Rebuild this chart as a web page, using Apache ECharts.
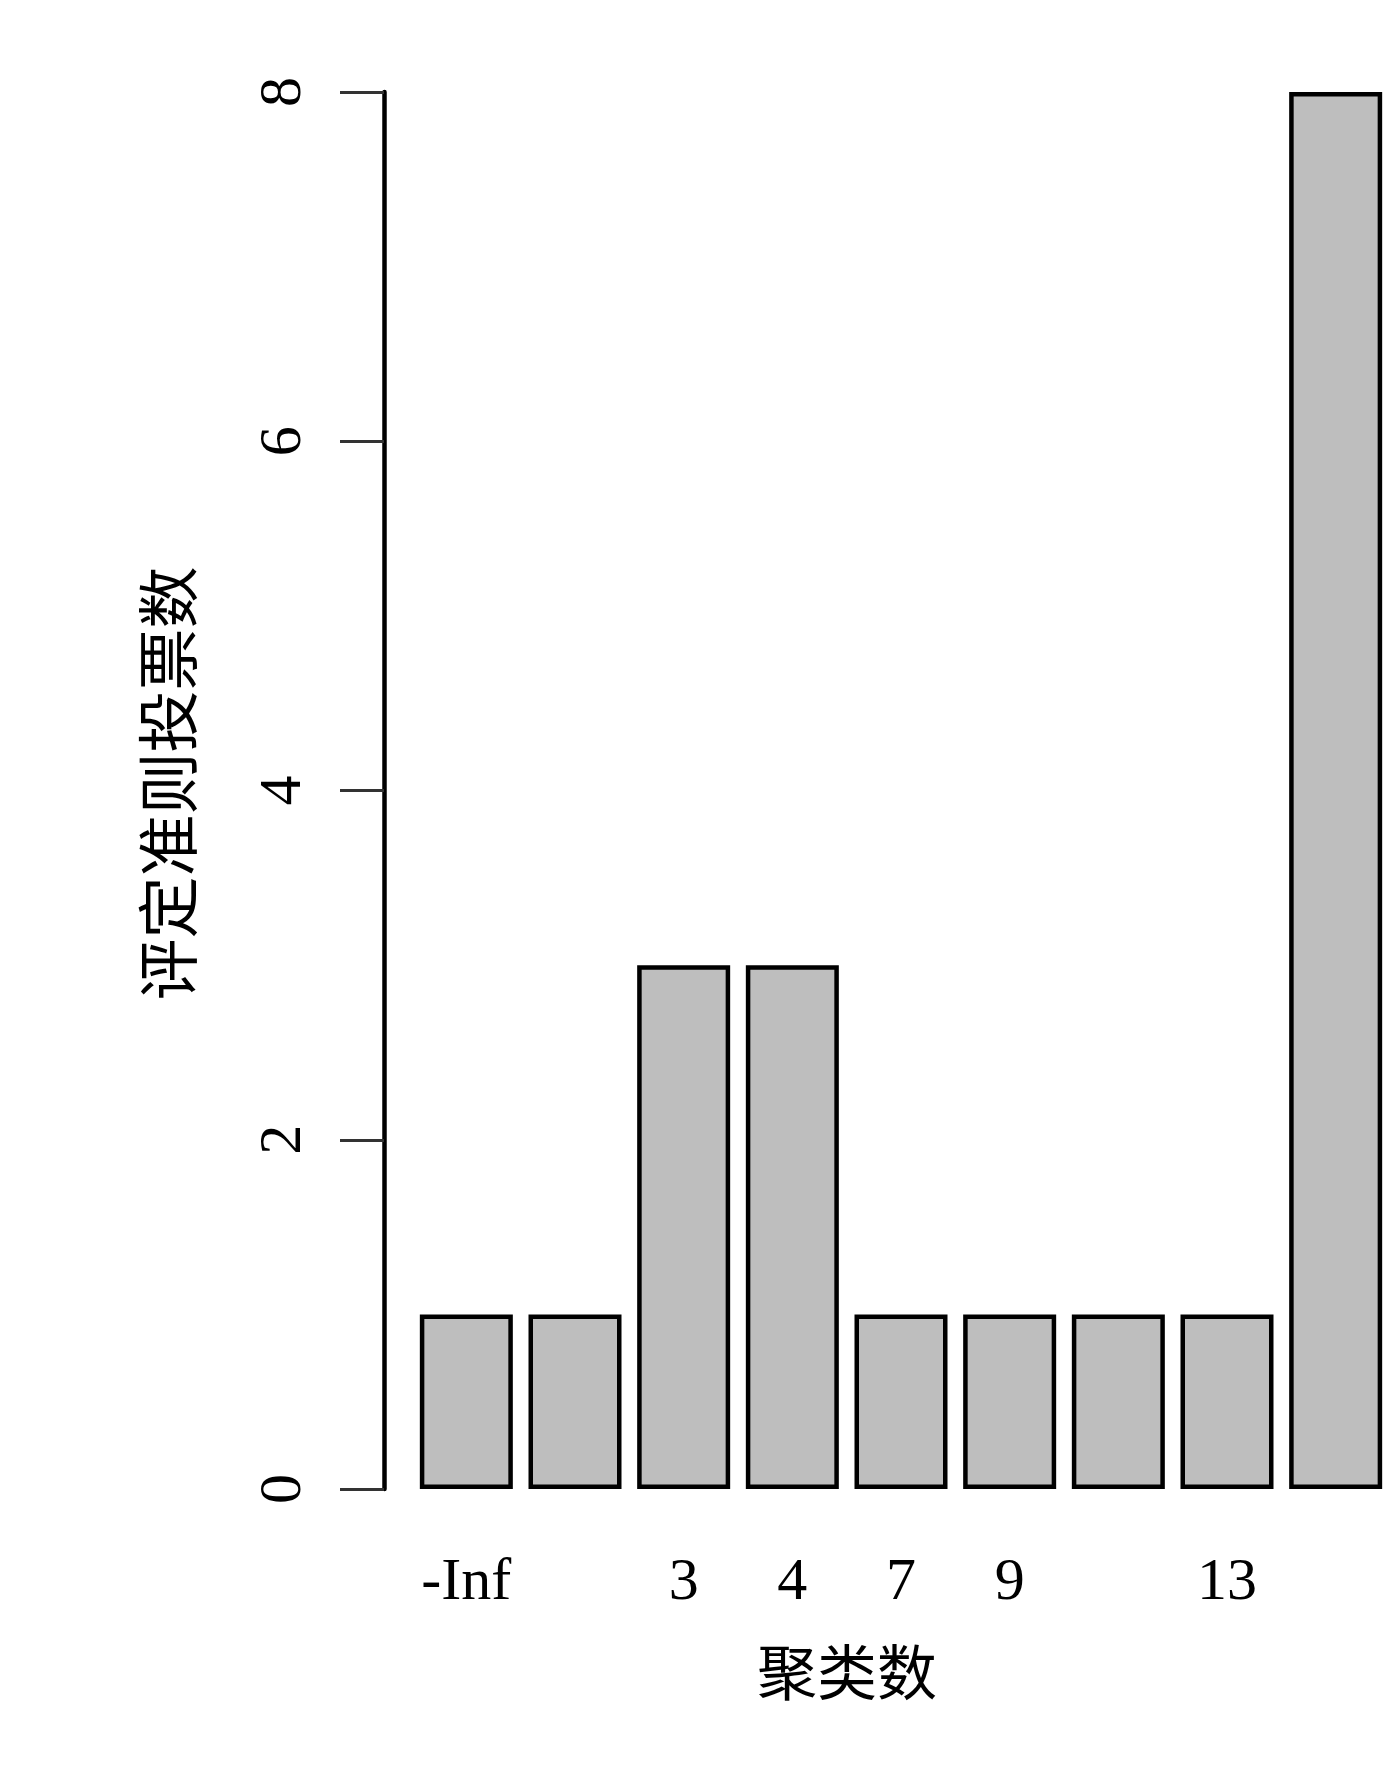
<!DOCTYPE html>
<html>
<head>
<meta charset="utf-8">
<script src="https://cdn.jsdelivr.net/npm/echarts@6/dist/echarts.min.js"></script>
<style>
  html, body { margin: 0; padding: 0; background: #fff; }
  #chart { width: 1398px; height: 1766px; }
</style>
</head>
<body>
<div id="chart"></div>
<script>
// 聚类数 (labels R left out because they overlap are left blank)
const clusterLabels = ['-Inf', '', '3', '4', '7', '9', '', '13', ''];
// 评定准则投票数
const votes = [1, 1, 3, 3, 1, 1, 1, 1, 8];

const serif = '"Liberation Serif", "Times New Roman", "Noto Sans CJK SC", serif';

const chart = echarts.init(document.getElementById('chart'), null, { renderer: 'canvas' });

const options = {
  backgroundColor: '#fff',
  animation: false,
  textStyle: { fontFamily: serif },
  grid: {
    left: 412,
    width: 978,
    top: 92,
    height: 1397,
  },
  xAxis: {
    type: 'category',
    data: clusterLabels,
    boundaryGap: true,
    axisLine: { show: false },
    axisTick: { show: false },
    axisLabel: {
      interval: 0,
      margin: 64,
      color: '#000',
      fontSize: 60,
      fontFamily: serif,
    },
    name: '聚类数',
    nameLocation: 'middle',
    nameGap: 160,
    nameTextStyle: {
      color: '#000',
      fontSize: 60,
      fontFamily: serif,
      padding: [0, 108, 0, 0],
    },
  },
  yAxis: {
    type: 'value',
    min: 0,
    max: 8,
    interval: 2,
    offset: 28,
    splitLine: { show: false },
    axisLine: {
      show: true,
      lineStyle: { color: '#000', width: 4.5 },
    },
    axisTick: {
      show: true,
      length: 44,
      lineStyle: { color: '#333', width: 3 },
    },
    axisLabel: {
      rotate: 90,
      margin: 70,
      color: '#000',
      fontSize: 60,
      fontFamily: serif,
    },
    name: '评定准则投票数',
    nameLocation: 'middle',
    nameRotate: 90,
    nameGap: 177,
    nameTextStyle: {
      color: '#000',
      fontSize: 62,
      fontFamily: serif,
      padding: [0, 0, 0, 14],
    },
  },
  series: [
    {
      type: 'bar',
      data: votes,
      barWidth: 93,
      itemStyle: {
        color: '#bebebe',
        borderColor: '#000',
        borderWidth: 4.5,
      },
    },
  ],
};

chart.setOption(options);
</script>
</body>
</html>
